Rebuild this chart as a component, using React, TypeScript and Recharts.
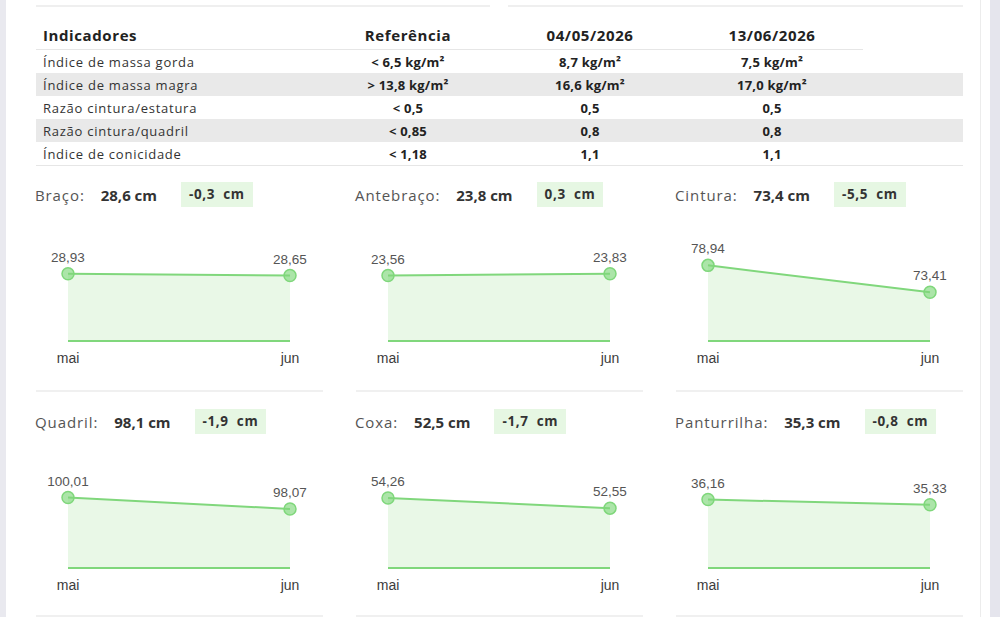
import { AreaChart, Area, XAxis, YAxis, LabelList } from 'recharts'

// tabela de indicadores
const indicadores = [
  'Índice de massa gorda',
  'Índice de massa magra',
  'Razão cintura/estatura',
  'Razão cintura/quadril',
  'Índice de conicidade',
]
const referencias = ['< 6,5 kg/m²', '> 13,8 kg/m²', '< 0,5', '< 0,85', '< 1,18']
const datas = ['04/05/2026', '13/06/2026']
const valoresMaio = ['8,7 kg/m²', '16,6 kg/m²', '0,5', '0,8', '1,1']
const valoresJunho = ['7,5 kg/m²', '17,0 kg/m²', '0,5', '0,8', '1,1']

// medidas
const months = ['mai', 'jun']
const medidas = ['Braço', 'Antebraço', 'Cintura', 'Quadril', 'Coxa', 'Panturrilha']
const valoresInicio = [28.93, 23.56, 78.94, 100.01, 54.26, 36.16]
const valoresFim = [28.65, 23.83, 73.41, 98.07, 52.55, 35.33]
const atuais = ['28,6 cm', '23,8 cm', '73,4 cm', '98,1 cm', '52,5 cm', '35,3 cm']
const diferencas = ['-0,3', '0,3', '-5,5', '-1,9', '-1,7', '-0,8']

const GREEN = '#80d77c'
const FONT = "'Open Sans', 'DejaVu Sans', sans-serif"
const ARIAL = "'Liberation Sans', Arial, sans-serif"

const fmt = (v: any) => Number(v).toFixed(2).replace('.', ',')

function MiniChart({ i }: { i: number }) {
  const data = months.map((m, k) => ({ month: m, value: k === 0 ? valoresInicio[i] : valoresFim[i] }))
  return (
    <AreaChart width={300} height={145} data={data} margin={{ top: 11, right: 45, bottom: 4, left: 33 }}>
      <XAxis
        dataKey="month"
        axisLine={{ stroke: GREEN, strokeWidth: 2 }}
        tickLine={false}
        tickSize={0}
        tickMargin={12}
        height={30}
        interval={0}
        tick={{ fill: '#3c3c3c', fontSize: 14, fontFamily: ARIAL }}
      />
      <YAxis hide domain={[(min: number) => min - 10, (max: number) => max + 5]} />
      <Area
        type="linear"
        dataKey="value"
        stroke={GREEN}
        strokeWidth={2}
        fill="#e9f8e7"
        fillOpacity={1}
        dot={{ r: 6, fill: '#7fd77b', fillOpacity: 0.65, stroke: '#7fd77b', strokeWidth: 1.5 }}
        isAnimationActive={false}
      >
        <LabelList
          dataKey="value"
          position="top"
          offset={12}
          formatter={fmt}
          style={{ fill: '#555', fontSize: 13.5, fontFamily: ARIAL }}
        />
      </Area>
    </AreaChart>
  )
}

function Cell({ i, x, top }: { i: number; x: number; top: number }) {
  return (
    <div style={{ position: 'absolute', left: x, top, width: 288 }}>
      <div style={{ display: 'flex', alignItems: 'center', height: 25, fontFamily: FONT }}>
        <span style={{ fontSize: 15, color: '#555', letterSpacing: 0.9 }}>{medidas[i]}:</span>
        <span style={{ fontSize: 15, color: '#333', fontWeight: 700, marginLeft: 16 }}>{atuais[i]}</span>
        <span
          style={{
            marginLeft: 24,
            background: '#e6f7e3',
            height: 25,
            lineHeight: '25px',
            padding: '0 8px',
            fontSize: 13.5,
            fontWeight: 700,
            color: '#333',
            letterSpacing: 0.6,
            whiteSpace: 'pre',
          }}
        >
          {diferencas[i] + '  cm'}
        </span>
      </div>
      <div style={{ position: 'absolute', left: 0, top: 48 }}>
        <MiniChart i={i} />
      </div>
    </div>
  )
}

export default function App() {
  const colX = [35, 355, 675]
  const rowTop = [182, 409]
  const cols = [
    { w: 282, align: 'left' as const },
    { w: 180, align: 'center' as const },
    { w: 184, align: 'center' as const },
    { w: 180, align: 'center' as const },
  ]
  return (
    <div
      style={{
        position: 'fixed',
        left: 0,
        top: 0,
        width: 1000,
        height: 617,
        background: '#fff',
        overflow: 'hidden',
        fontFamily: FONT,
      }}
    >
      {/* bordas laterais */}
      <div style={{ position: 'absolute', left: 0, top: 0, width: 6, height: 617, background: '#e9e9ef' }} />
      <div style={{ position: 'absolute', left: 980, top: 0, width: 1, height: 617, background: '#ececec' }} />
      <div style={{ position: 'absolute', left: 990, top: 0, width: 10, height: 617, background: '#e5e5ed' }} />

      {/* linhas do topo */}
      <div style={{ position: 'absolute', left: 36, top: 5, width: 454, height: 2, background: '#efefef' }} />
      <div style={{ position: 'absolute', left: 508, top: 5, width: 455, height: 2, background: '#efefef' }} />

      {/* cabeçalho da tabela */}
      <div style={{ position: 'absolute', left: 36, top: 21, display: 'flex', height: 28, alignItems: 'center' }}>
        {['Indicadores', 'Referência', ...datas].map((h, k) => (
          <div
            key={h}
            style={{
              width: cols[k].w,
              textAlign: cols[k].align,
              paddingLeft: k === 0 ? 7 : 0,
              boxSizing: 'border-box',
              fontSize: 15,
              fontWeight: 700,
              color: '#222',
              letterSpacing: 0.6,
            }}
          >
            {h}
          </div>
        ))}
      </div>
      <div style={{ position: 'absolute', left: 36, top: 49, width: 827, height: 1, background: '#e6e6e6' }} />

      {indicadores.map((ind, r) => (
        <div
          key={ind}
          style={{
            position: 'absolute',
            left: 36,
            top: 50 + r * 23,
            width: 927,
            height: 23,
            display: 'flex',
            alignItems: 'center',
            background: r % 2 === 1 ? '#e9e9e9' : 'transparent',
          }}
        >
          {[ind, referencias[r], valoresMaio[r], valoresJunho[r]].map((t, k) => (
            <div
              key={k}
              style={{
                width: cols[k].w,
                textAlign: cols[k].align,
                paddingLeft: k === 0 ? 7 : 0,
                boxSizing: 'border-box',
                fontSize: 13,
                fontWeight: k === 0 ? 400 : 700,
                color: k === 0 ? '#333' : '#222',
                letterSpacing: k === 0 ? 0.75 : 0.2,
              }}
            >
              {t}
            </div>
          ))}
        </div>
      ))}
      <div style={{ position: 'absolute', left: 36, top: 165, width: 927, height: 1, background: '#e6e6e6' }} />

      {/* medidas */}
      {medidas.map((m, i) => (
        <Cell key={m} i={i} x={colX[i % 3]} top={rowTop[Math.floor(i / 3)]} />
      ))}

      {[390, 615].map((y) =>
        colX.map((x) => (
          <div key={`${x}-${y}`} style={{ position: 'absolute', left: x + 1, top: y, width: 287, height: 2, background: '#f0f0f0' }} />
        ))
      )}
    </div>
  )
}
